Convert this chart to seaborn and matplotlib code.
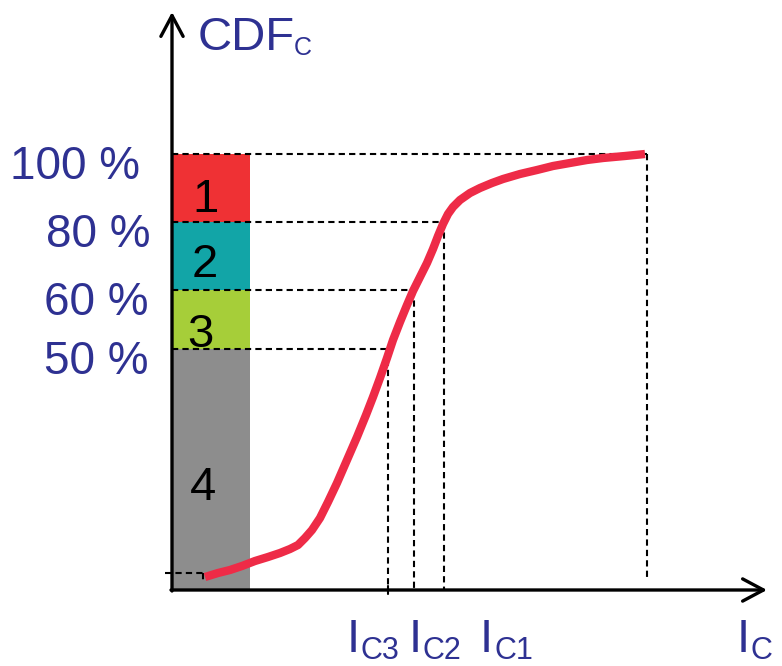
import matplotlib
matplotlib.use("Agg")
import matplotlib.pyplot as plt
import seaborn as sns
import pandas as pd

# ---- data (schematic units: x = current axis, y = CDF height) ----
level_labels = ["100 %", "80 %", "60 %", "50 %"]
level_heights = [436, 368, 300, 241]
level_label_right = [-32, -22, -24, -24]
band_names = ["1", "2", "3", "4"]
band_tops = [436, 368, 300, 241]
band_bottoms = [368, 300, 241, 0]
band_colors = ["#EF3134", "#12A5A7", "#A6CE39", "#8D8D8D"]
band_label_y = [378, 313, 243, 90]
band_label_x = [33, 33, 28, 31]

curve_x = [33, 46, 58, 70, 83, 96, 108, 118, 126, 133, 140, 148, 156, 165,
           175, 185, 194, 201, 208, 215, 221, 228, 235, 241, 248, 255, 261,
           266, 271, 276, 281, 288, 298, 308, 320, 331, 348, 365, 381, 398,
           415, 431, 453, 473]
curve_y = [13, 17, 20, 24, 29, 33, 37, 41, 45, 52, 60, 72, 88, 107,
           130, 153, 175, 193, 212, 232, 250, 268, 285, 299, 313, 327, 341,
           354, 366, 376, 383, 390, 397, 402, 407, 411, 416, 420, 424, 427,
           430, 432, 434, 436]

ic_names = ["C3", "C2", "C1"]
ic_x = [216, 242, 272]          # crossing points of 50 %, 60 %, 80 %
ic_label_x = [175, 237, 308]
top_x = 475                     # where the curve reaches 100 %
start_y = 17
start_x = 31

NAVY = "#2E3192"
CURVE = "#EE2B47"

sns.set_theme(style="white")
plt.rcParams["font.family"] = ["Liberation Sans", "DejaVu Sans"]

fig = plt.figure(figsize=(7.82, 6.66), dpi=100)
ax = fig.add_axes([0, 0, 1, 1])
ax.set_xlim(-172, 610)
ax.set_ylim(-76, 590)
ax.axis("off")

# colour bands
heights = [t - b for t, b in zip(band_tops, band_bottoms)]
ax.bar([0] * 4, heights, bottom=band_bottoms, width=78, align="edge",
       color=band_colors, linewidth=0, zorder=1)
for name, bx, by in zip(band_names, band_label_x, band_label_y):
    ax.text(bx, by, name, ha="center", va="baseline", fontsize=34,
            color="black", zorder=5)

# dashed guide lines
dash = dict(color="black", lw=1.5, linestyle=(0, (3, 2)), zorder=3)
ax.plot([0, top_x], [level_heights[0]] * 2, **dash)
ax.plot([top_x, top_x], [level_heights[0], 12], **dash)
for h, xx in zip(level_heights[1:], ic_x[::-1]):
    ax.plot([0, xx], [h, h], **dash)
    ax.plot([xx, xx], [h, 0], **dash)
ax.plot([-7, start_x], [start_y, start_y], **dash)
ax.plot([start_x, start_x], [start_y, 7], **dash)

# CDF curve
df = pd.DataFrame({"I": curve_x, "CDF": curve_y})
sns.lineplot(data=df, x="I", y="CDF", ax=ax, color=CURVE, lw=6,
             sort=False, estimator=None, zorder=4,
             solid_capstyle="butt", solid_joinstyle="round")

# axes with arrows
ap = dict(arrowstyle="->,head_length=15,head_width=8", mutation_scale=1,
          lw=2.4, color="black", shrinkA=0, shrinkB=0)
ax.annotate("", xy=(0, 578), xytext=(0, -1), arrowprops=ap, zorder=6)
ax.annotate("", xy=(595, 0), xytext=(-1, 0), arrowprops=ap, zorder=6)
ax.plot([ic_x[0], ic_x[0]], [-4, 4], color="black", lw=1.5, zorder=6)

# level labels
for lab, h, rx in zip(level_labels, level_heights, level_label_right):
    ax.text(rx, h - 25, lab, ha="right", va="baseline", fontsize=33,
            color=NAVY)

# axis titles
ax.text(26, 540, "CDF", ha="left", va="baseline", fontsize=34, color=NAVY)
ax.text(122, 535, "C", ha="left", va="baseline", fontsize=18, color=NAVY)

for name, lx in zip(ic_names, ic_label_x):
    ax.text(lx, -62, "I", ha="left", va="baseline", fontsize=34, color=NAVY)
    ax.text(lx + 14, -69, name, ha="left", va="baseline", fontsize=22,
            color=NAVY)
ax.text(565, -62, "I", ha="left", va="baseline", fontsize=34, color=NAVY)
ax.text(579, -69, "C", ha="left", va="baseline", fontsize=22, color=NAVY)

fig.savefig("out.png", dpi=100)
